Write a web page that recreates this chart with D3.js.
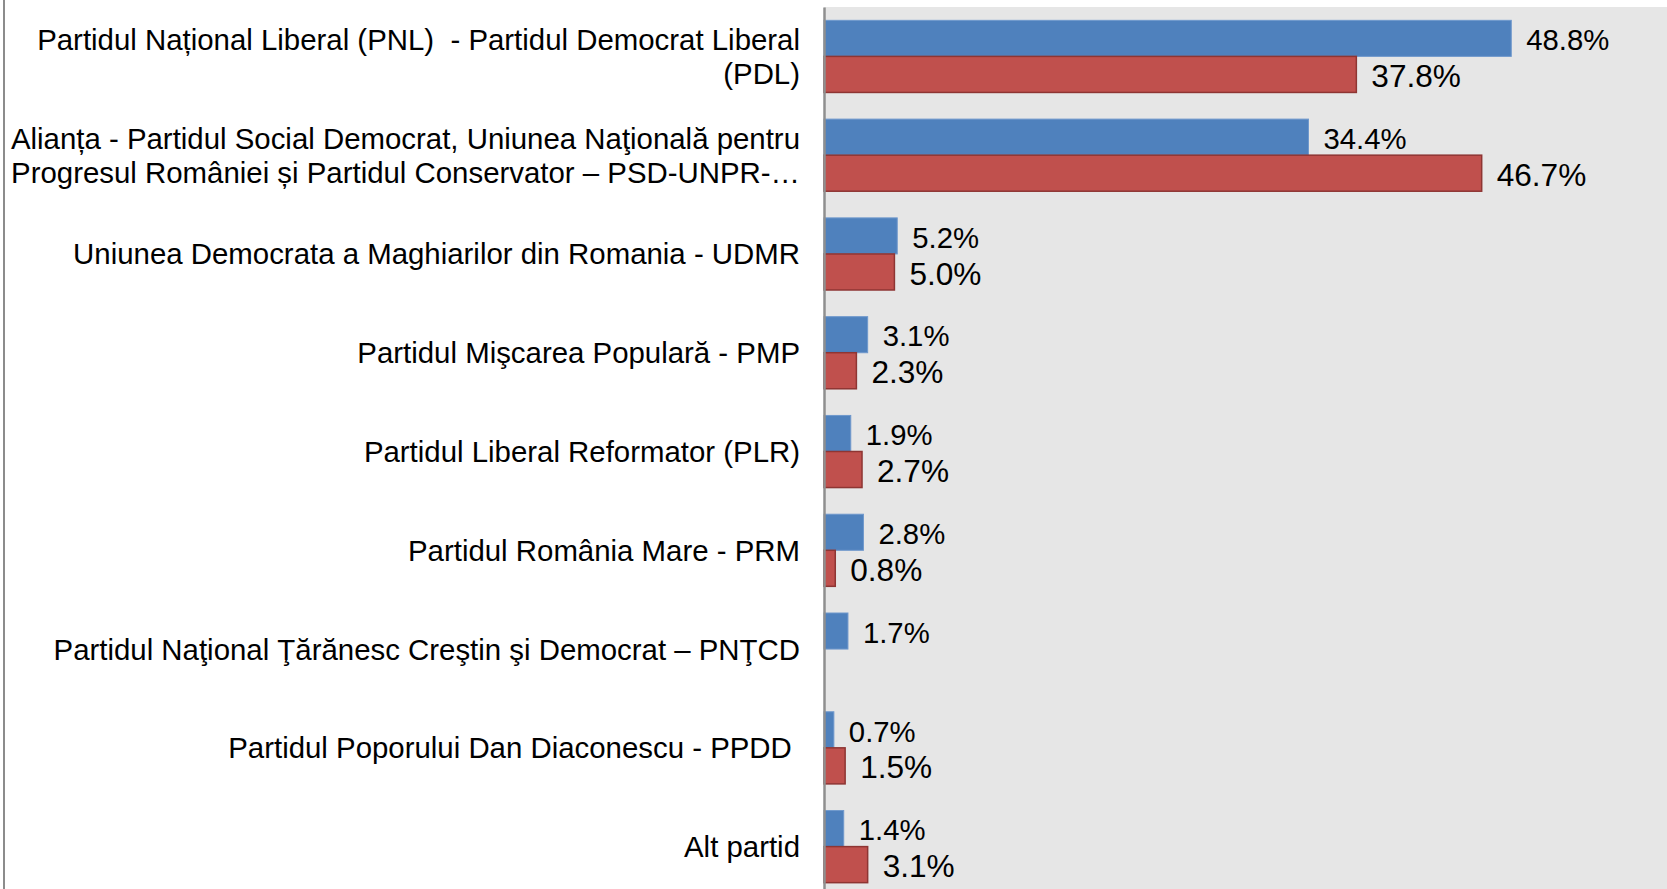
<!DOCTYPE html>
<html>
<head>
<meta charset="utf-8">
<script src="https://cdn.jsdelivr.net/npm/d3@7"></script>
<style>
  body { margin: 0; background: #fff; }
  text { font-family: "Liberation Sans", Arial, sans-serif; fill: #000; white-space: pre; }
</style>
</head>
<body>
<div id="chart"></div>
<script>
// Category labels (line breaks as in the original)
const categories = [
    'Partidul Național Liberal (PNL)  - Partidul Democrat Liberal\n(PDL)',
    'Alianța - Partidul Social Democrat, Uniunea Naţională pentru\nProgresul României și Partidul Conservator – PSD-UNPR-…',
    'Uniunea Democrata a Maghiarilor din Romania - UDMR',
    'Partidul Mişcarea Populară - PMP',
    'Partidul Liberal Reformator (PLR)',
    'Partidul România Mare - PRM',
    'Partidul Naţional Ţărănesc Creştin şi Democrat – PNŢCD',
    'Partidul Poporului Dan Diaconescu - PPDD ',
    'Alt partid'
];
const seriesNames = ['blue', 'red'];
const blueValues = [48.8, 34.4, 5.2, 3.1, 1.9, 2.8, 1.7, 0.7, 1.4];
const redValues = [37.8, 46.7, 5.0, 2.3, 2.7, 0.8, null, 1.5, 3.1];

const width = 1667;
const height = 889;
const plotLeft = 824;
const plotTop = 7;

const svg = d3.select('#chart')
    .append('svg')
    .attr('width', width)
    .attr('height', height);

// Scales
const y = d3.scaleBand()
    .domain(categories)
    .range([plotTop, 896])
    .paddingInner(0.27)
    .paddingOuter(0.135);

const ySub = d3.scaleBand()
    .domain(seriesNames)
    .range([0, y.bandwidth()]);

const x = d3.scaleLinear()
    .domain([0, 60])
    .range([plotLeft, 1669]);

// Plot background
svg.append('rect')
    .attr('x', plotLeft)
    .attr('y', plotTop)
    .attr('width', width - plotLeft)
    .attr('height', height - plotTop)
    .attr('fill', '#e6e6e6');

// Left frame line
svg.append('line')
    .attr('x1', 4).attr('x2', 4)
    .attr('y1', 0).attr('y2', height)
    .attr('stroke', '#8c8c8c')
    .attr('stroke-width', 2);

// Build rows from the arrays
const rows = categories.map((c, i) => ({
    cat: c,
    values: [
        { key: 'blue', v: blueValues[i] },
        { key: 'red', v: redValues[i] }
    ].filter(d => d.v != null)
}));

const styles = {
    blue: { fill: '#4f81bd', stroke: '#6f98cc', sw: 1, font: 29.3 },
    red: { fill: '#c0504d', stroke: '#8e3533', sw: 1.5, font: 31.6 }
};

const groups = svg.selectAll('g.cat')
    .data(rows)
    .enter().append('g')
    .attr('class', 'cat')
    .attr('transform', d => `translate(0,${y(d.cat)})`);

// Bars
groups.selectAll('rect')
    .data(d => d.values)
    .enter().append('rect')
    .attr('x', x(0))
    .attr('y', d => ySub(d.key))
    .attr('width', d => x(d.v) - x(0))
    .attr('height', ySub.bandwidth())
    .attr('fill', d => styles[d.key].fill)
    .attr('stroke', d => styles[d.key].stroke)
    .attr('stroke-width', d => styles[d.key].sw);

// Value labels
groups.selectAll('text.val')
    .data(d => d.values)
    .enter().append('text')
    .attr('class', 'val')
    .attr('x', d => x(d.v) + 15)
    .attr('y', d => ySub(d.key) + ySub.bandwidth() / 2)
    .attr('dy', '0.4em')
    .style('font-size', d => styles[d.key].font + 'px')
    .text(d => d.v.toFixed(1) + '%');

// Category axis
const yAxis = svg.append('g')
    .attr('transform', `translate(${plotLeft},0)`)
    .call(d3.axisLeft(y).tickSize(0).tickSizeOuter(0).tickPadding(24));

yAxis.select('.domain')
    .attr('stroke', '#8f8f8f')
    .attr('stroke-width', 2.5);

yAxis.selectAll('.tick text')
    .style('font-size', '29.4px')
    .attr('fill', '#000')
    .each(function (d) {
        const t = d3.select(this);
        const lines = d.split('\n');
        const lh = 34;
        t.text(null).attr('dy', null);
        lines.forEach((line, i) => {
            t.append('tspan')
                .attr('x', -24)
                .attr('dy', i === 0 ? ((-(lines.length - 1) * lh / 2) + 10.5) + 'px' : lh + 'px')
                .text(line);
        });
    });
</script>
</body>
</html>
